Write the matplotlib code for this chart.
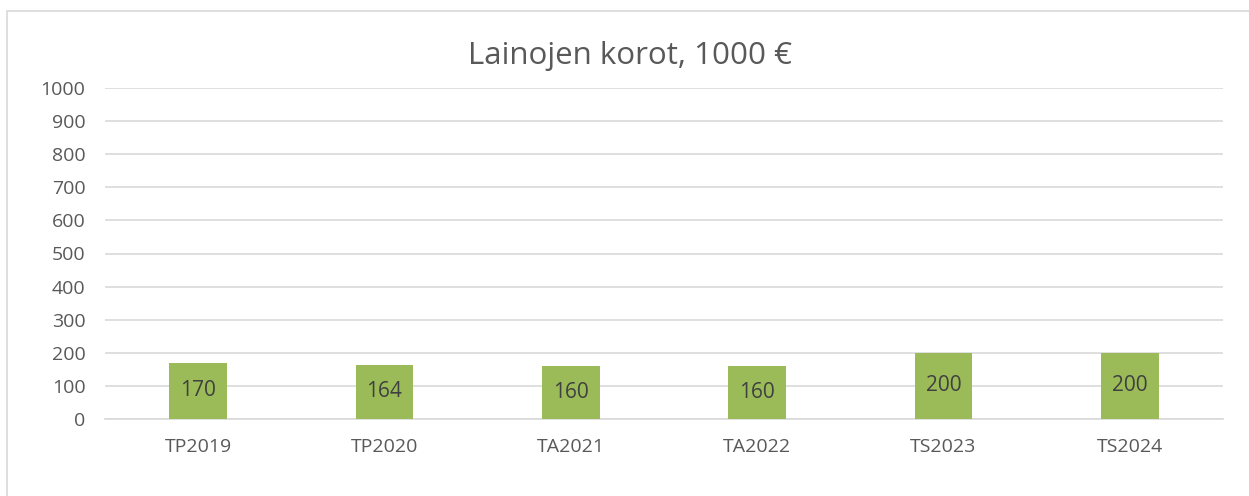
import matplotlib
matplotlib.use("Agg")
import matplotlib.pyplot as plt
from matplotlib.patches import Rectangle

categories = ["TP2019", "TP2020", "TA2021", "TA2022", "TS2023", "TS2024"]
values = [170, 164, 160, 160, 200, 200]
yticks = [0, 100, 200, 300, 400, 500, 600, 700, 800, 900, 1000]

W, H = 1249, 496
plt.rcParams["font.family"] = ["Open Sans", "DejaVu Sans"]
text_col = "#595959"

fig = plt.figure(figsize=(W / 100, H / 100), dpi=100)
# chart border (right and bottom edges fall outside the image)
fig.add_artist(Rectangle((7 / W, -0.05), 1.1, 1 - 11 / H + 0.05,
                         transform=fig.transFigure, fill=False,
                         edgecolor="#d9d9d9", lw=1.2))

ax = fig.add_axes([105 / W, 1 - 419 / H, (1223 - 105) / W, (419 - 88) / H])
x = range(len(categories))
bars = ax.bar(x, values, width=0.31, color="#9bbb59", zorder=3)
for b, v in zip(bars, values):
    ax.text(b.get_x() + b.get_width() / 2, v / 2, str(v), ha="center",
            va="center", fontsize=15, color="#404040", zorder=4)

ax.set_xlim(-0.5, len(categories) - 0.5)
ax.set_ylim(0, 1000)
ax.set_yticks(yticks)
ax.set_xticks(list(x))
ax.set_xticklabels(categories)
ax.tick_params(axis="both", length=0, labelsize=14, colors=text_col)
ax.tick_params(axis="x", pad=14)
ax.tick_params(axis="y", pad=14)
ax.grid(axis="y", color="#d9d9d9", lw=1.2, zorder=0)
for s in ("top", "right", "left"):
    ax.spines[s].set_visible(False)
ax.spines["bottom"].set_color("#d9d9d9")
ax.spines["bottom"].set_linewidth(1.2)

fig.text(630 / W, 1 - 56 / H, "Lainojen korot, 1000 €",
         ha="center", va="center", fontsize=22.5, color=text_col)

fig.savefig("out.png", dpi=100)
